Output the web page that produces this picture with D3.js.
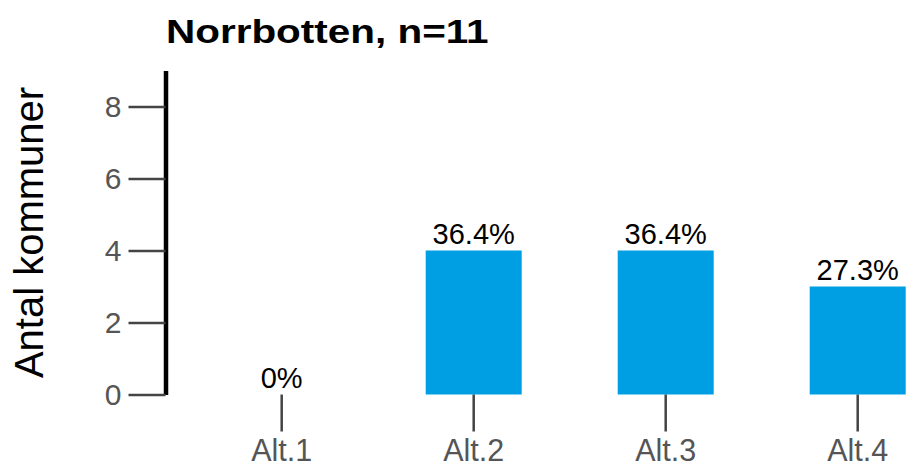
<!DOCTYPE html>
<html>
<head>
<meta charset="utf-8">
<script src="https://cdn.jsdelivr.net/npm/d3@7"></script>
<style>
  body { margin: 0; background: #fff; }
  text { font-family: Arial, "Liberation Sans", sans-serif; }
</style>
</head>
<body>
<svg width="909" height="464"></svg>
<script>
  // data
  var categories = ["Alt.1", "Alt.2", "Alt.3", "Alt.4"];
  var counts = [0, 4, 4, 3];
  var pctLabels = ["0%", "36.4%", "36.4%", "27.3%"];
  var yTicks = [0, 2, 4, 6, 8];
  var title = "Norrbotten, n=11";
  var yTitle = "Antal kommuner";

  var svg = d3.select("svg");

  var x = d3.scaleBand()
    .domain(categories)
    .range([185.7, 953.7])
    .paddingInner(0.5)
    .paddingOuter(0.25);

  var y = d3.scaleLinear()
    .domain([0, 9])
    .range([394.5, 70.5]);

  // bars
  svg.append("g")
    .selectAll("rect")
    .data(categories)
    .enter()
    .append("rect")
    .attr("x", function(d) { return x(d); })
    .attr("width", x.bandwidth())
    .attr("y", function(d, i) { return y(counts[i]); })
    .attr("height", function(d, i) { return y(0) - y(counts[i]); })
    .attr("fill", "#009fe3");

  // percent labels above bars
  svg.append("g")
    .selectAll("text")
    .data(categories)
    .enter()
    .append("text")
    .attr("x", function(d) { return x(d) + x.bandwidth() / 2; })
    .attr("y", function(d, i) { return y(counts[i]) - 7; })
    .attr("text-anchor", "middle")
    .attr("font-size", "29px")
    .attr("fill", "#000")
    .text(function(d, i) { return pctLabels[i]; });

  // y axis
  var yAxis = svg.append("g")
    .attr("transform", "translate(165.5,0)")
    .call(d3.axisLeft(y).tickValues(yTicks).tickSize(37).tickSizeOuter(0).tickPadding(7));
  yAxis.select(".domain").attr("stroke", "#000").attr("stroke-width", 4.5);
  yAxis.selectAll(".tick line").attr("stroke", "#444").attr("stroke-width", 2.5);
  yAxis.selectAll(".tick text")
    .attr("font-size", "30px")
    .attr("font-family", "Arial, 'Liberation Sans', sans-serif")
    .attr("fill", "#555");

  // x axis (ticks only)
  var xAxis = svg.append("g")
    .attr("transform", "translate(0,394.5)")
    .call(d3.axisBottom(x).tickSize(37).tickSizeOuter(0).tickPadding(8));
  xAxis.select(".domain").remove();
  xAxis.selectAll(".tick line").attr("stroke", "#444").attr("stroke-width", 2.5);
  xAxis.selectAll(".tick text")
    .attr("font-size", "30.5px")
    .attr("font-family", "Arial, 'Liberation Sans', sans-serif")
    .attr("fill", "#555");

  // y axis title
  svg.append("text")
    .attr("transform", "translate(43,232.5) rotate(-90)")
    .attr("text-anchor", "middle")
    .attr("font-size", "40px")
    .attr("fill", "#000")
    .text(yTitle);

  // chart title
  svg.append("text")
    .attr("transform", "translate(166,43.3) scale(1.19,1)")
    .attr("font-size", "34px")
    .attr("font-weight", "bold")
    .attr("fill", "#000")
    .text(title);
</script>
</body>
</html>
